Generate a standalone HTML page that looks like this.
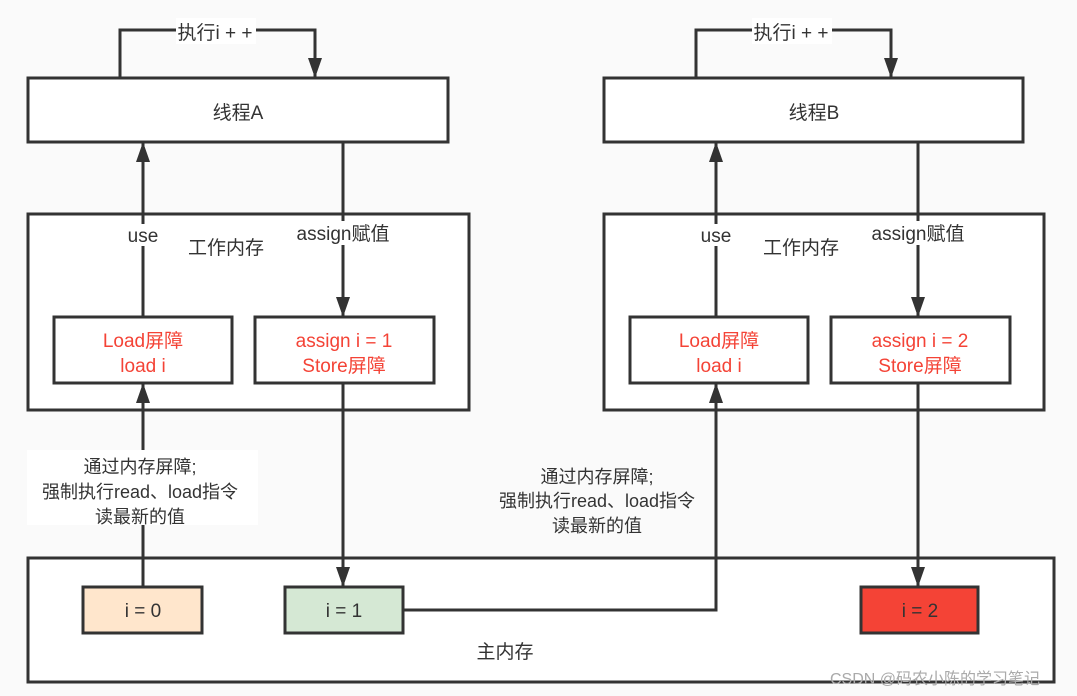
<!DOCTYPE html><html><head><meta charset="utf-8"><style>body{margin:0;background:#fafafa}svg{display:block}text{font-family:"Liberation Sans","Noto Sans CJK SC",sans-serif;font-size:19px;fill:#333;text-anchor:middle}</style></head><body>
<svg width="1077" height="696" viewBox="0 0 1077 696">
<defs>
<marker id="u" markerWidth="16" markerHeight="22" refX="8" refY="0" markerUnits="userSpaceOnUse"><path d="M1,20 L15,20 L8,0 Z" fill="#333"/></marker>
<marker id="d" markerWidth="16" markerHeight="22" refX="8" refY="20" markerUnits="userSpaceOnUse"><path d="M1,0 L15,0 L8,20 Z" fill="#333"/></marker></defs>
<g stroke="#333" stroke-width="3" fill="#fff">
<rect x="28" y="558" width="1026" height="124"/>
<rect x="28" y="78" width="420" height="64"/>
<rect x="28" y="214" width="441" height="196"/>
<rect x="54" y="317" width="178" height="66"/>
<rect x="255" y="317" width="179" height="66"/>
<rect x="604" y="78" width="419" height="64"/>
<rect x="604" y="214" width="440" height="196"/>
<rect x="630" y="317" width="178" height="66"/>
<rect x="831" y="317" width="179" height="66"/>
<rect x="83" y="587" width="119" height="46" fill="#ffe6cc"/>
<rect x="285" y="587" width="118" height="46" fill="#d5e8d4"/>
<rect x="861" y="587" width="117" height="46" fill="#f44336"/>
</g>
<g stroke="#333" stroke-width="3" fill="none">
<path d="M120,78 V30 H315 V78" marker-end="url(#d)"/>
<path d="M696,78 V30 H891 V78" marker-end="url(#d)"/>
<path d="M143,317 V142" marker-end="url(#u)"/>
<path d="M343,142 V317" marker-end="url(#d)"/>
<path d="M716,317 V142" marker-end="url(#u)"/>
<path d="M918,142 V317" marker-end="url(#d)"/>
<path d="M143,587 V383" marker-end="url(#u)"/>
<path d="M343,383 V587" marker-end="url(#d)"/>
<path d="M918,383 V587" marker-end="url(#d)"/>
<path d="M403,610 H716 V383" marker-end="url(#u)"/>
</g>
<rect x="176" y="18" width="80" height="26" fill="#fff"/><text x="215" y="39">执行i + +</text>
<rect x="752" y="18" width="80" height="26" fill="#fff"/><text x="791" y="39">执行i + +</text>
<text x="238" y="119">线程A</text><text x="814" y="119">线程B</text>
<rect x="124" y="224" width="38" height="22" fill="#fff"/><text x="143" y="242">use</text>
<rect x="697" y="224" width="38" height="22" fill="#fff"/><text x="716" y="242">use</text>
<rect x="290" y="221" width="106" height="24" fill="#fff"/><text x="343" y="240">assign赋值</text>
<rect x="865" y="221" width="106" height="24" fill="#fff"/><text x="918" y="240">assign赋值</text>
<text x="226" y="254">工作内存</text><text x="801" y="254">工作内存</text>
<text x="143" y="347" style="fill:#f44336">Load屏障</text><text x="143" y="372" style="fill:#f44336">load  i</text>
<text x="344" y="347" style="fill:#f44336">assign i = 1</text><text x="344" y="372" style="fill:#f44336">Store屏障</text>
<text x="719" y="347" style="fill:#f44336">Load屏障</text><text x="719" y="372" style="fill:#f44336">load  i</text>
<text x="920" y="347" style="fill:#f44336">assign i = 2</text><text x="920" y="372" style="fill:#f44336">Store屏障</text>
<rect x="27" y="450" width="231" height="75" fill="#fff"/>
<text x="140" y="473" style="font-size:18px">通过内存屏障;</text><text x="140" y="498" style="font-size:18px">强制执行read、load指令</text><text x="140" y="523" style="font-size:18px">读最新的值</text>
<text x="597" y="483" style="font-size:18px">通过内存屏障;</text><text x="597" y="507" style="font-size:18px">强制执行read、load指令</text><text x="597" y="532" style="font-size:18px">读最新的值</text>
<text x="143" y="617">i = 0</text><text x="344" y="617">i = 1</text><text x="920" y="617">i = 2</text>
<text x="505" y="658">主内存</text>
<text x="935" y="684" style="font-size:16px;fill:#aaa">CSDN @码农小陈的学习笔记</text>
</svg></body></html>
